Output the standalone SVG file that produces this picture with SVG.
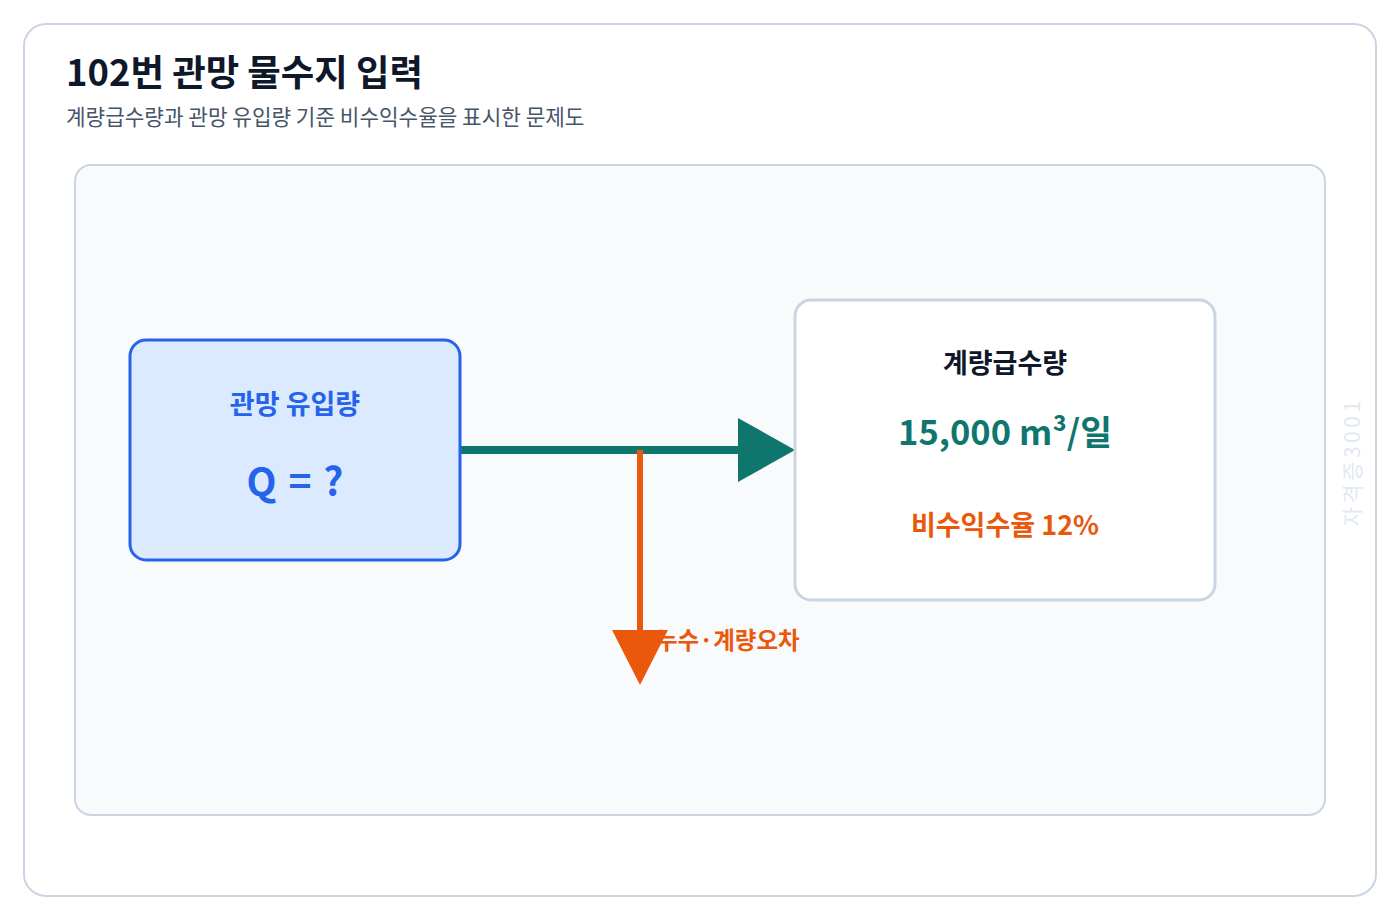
<svg xmlns="http://www.w3.org/2000/svg" width="1400" height="920" viewBox="0 0 1400 920">
<style>
text{font-family:"Noto Sans CJK KR","Noto Sans",sans-serif}
.b{font-weight:700}
</style>
<rect x="0" y="0" width="1400" height="920" fill="#ffffff"/>
<rect x="24" y="24" width="1352" height="872" rx="22" fill="#ffffff" stroke="#cbd5e1" stroke-width="2"/>
<text x="66" y="86" class="b" font-size="36.4" fill="#0f172a">102번 관망 물수지 입력</text>
<text x="66" y="125" font-size="21.3" fill="#475569">계량급수량과 관망 유입량 기준 비수익수율을 표시한 문제도</text>
<rect x="75" y="165" width="1250" height="650" rx="16" fill="#f8fafc" stroke="#cbd5e1" stroke-width="2"/>
<g id="connectors">
<line x1="460" y1="450" x2="742" y2="450" stroke="#0f766e" stroke-width="8"/>
<polygon points="738,418 795,450 738,482" fill="#0f766e"/>
<line x1="640" y1="450" x2="640" y2="634" stroke="#ea580c" stroke-width="6"/>
<text x="656" y="649" class="b" font-size="23.5" fill="#ea580c">누수·계량오차</text>
<polygon points="612,630 668,630 640,685" fill="#ea580c"/>
</g>
<g id="node-inflow">
<rect x="130" y="340" width="330" height="220" rx="16" fill="#dbeafe" stroke="#2563eb" stroke-width="3"/>
<text x="295" y="414" text-anchor="middle" class="b" font-size="27" fill="#2563eb">관망 유입량</text>
<text x="295" y="496" text-anchor="middle" class="b" font-size="39" fill="#2563eb" word-spacing="3">Q = ?</text>
</g>
<g id="node-metered">
<rect x="795" y="300" width="420" height="300" rx="16" fill="#ffffff" stroke="#cbd5e1" stroke-width="3"/>
<text x="1005" y="373" text-anchor="middle" class="b" font-size="27" fill="#0f172a">계량급수량</text>
<text x="1005" y="445" text-anchor="middle" class="b" font-size="34.5" fill="#0f766e">15,000 m³/일</text>
<text x="1005" y="535" text-anchor="middle" class="b" font-size="27" fill="#ea580c">비수익수율 12%</text>
</g>
<text x="1360" y="462" transform="rotate(-90 1360 462)" text-anchor="middle" font-size="21" fill="#e2e8f0" letter-spacing="3.5">자격증3001</text>
</svg>
